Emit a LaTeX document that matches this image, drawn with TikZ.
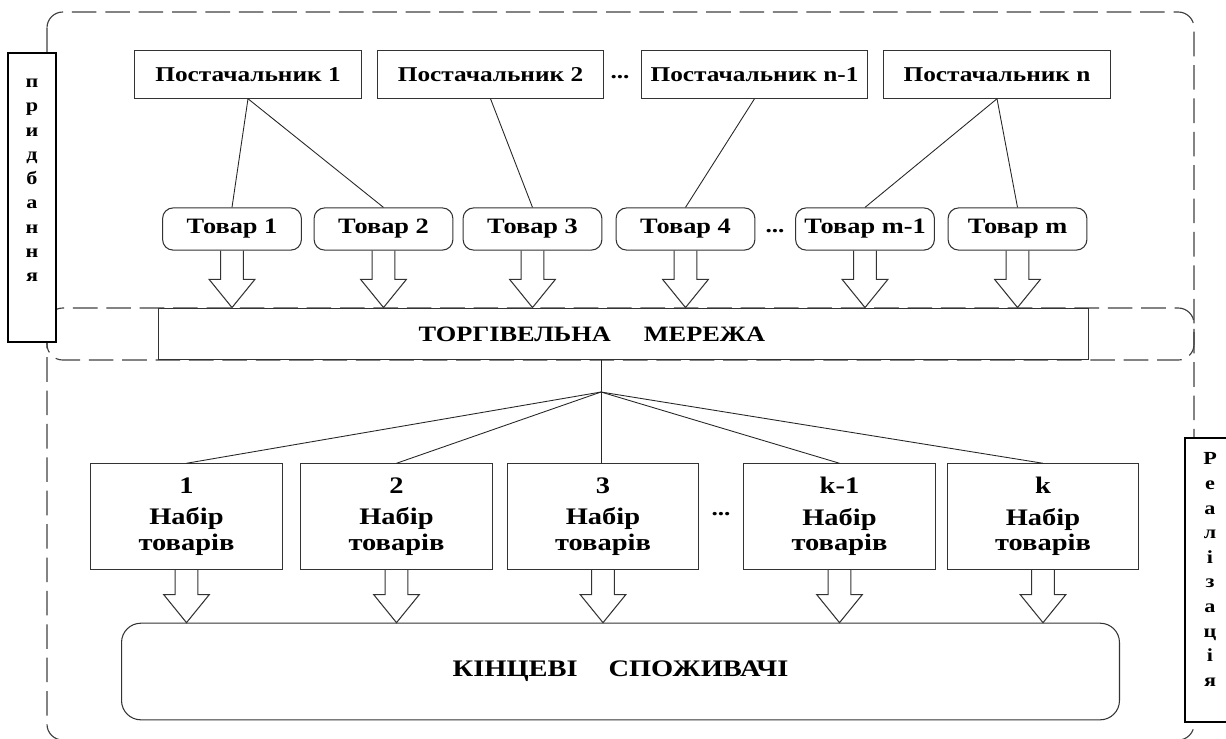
\documentclass[tikz,border=0pt]{standalone}
\usepackage{fontspec}
\setmainfont{Liberation Serif}[FakeStretch=1.2]
\usetikzlibrary{positioning,calc}

% block arrow from a box down to the box below it
\newcommand{\fatarrow}[2]{%
  \draw[fatarrow] let \p1=(#1.south), \p2=(#1.south |- #2.north) in
    (\x1-6.5pt,\y1) -- (\x1-6.5pt,\y2+16pt) -- (\x1-13pt,\y2+16pt) -- (\x2,\y2)
    -- (\x1+13pt,\y2+16pt) -- (\x1+6.5pt,\y2+16pt) -- (\x1+6.5pt,\y1);}

\begin{document}
\begin{tikzpicture}[x=0.02cm, y=-0.02cm,
    area/.style={draw=black!75, line width=0.65pt, dash pattern=on 14pt off 5pt, rounded corners=9pt},
    supplier/.style={draw=black!80, line width=0.6pt, fill=white, minimum width=129pt, minimum height=27pt, font=\fontsize{12}{14}\selectfont\bfseries},
    goods/.style={draw=black!80, line width=0.6pt, fill=white, rounded corners=6pt, minimum width=79pt, minimum height=24pt, font=\fontsize{12.5}{14}\selectfont\bfseries},
    netbox/.style={draw=black!80, line width=0.6pt, fill=white, minimum width=529pt, minimum height=29.5pt, font=\fontsize{12.5}{14}\selectfont\bfseries},
    setbox/.style={draw=black!80, line width=0.6pt, fill=white, minimum width=109pt, minimum height=60pt, align=center, font=\fontsize{13.5}{14.5}\selectfont\bfseries},
    endbox/.style={draw=black!80, line width=0.6pt, fill=white, rounded corners=11pt, minimum width=568pt, minimum height=55pt, font=\fontsize{13.5}{15}\selectfont\bfseries},
    sidebox/.style={draw=black, line width=1.1pt, fill=white, minimum width=27pt},
    sidetext/.style={inner sep=0pt, align=center, font=\fontsize{10.5}{13.8}\selectfont\bfseries},
    dots/.style={inner sep=0pt, font=\fontsize{12}{13}\selectfont\bfseries},
    link/.style={draw=black!85, line width=0.5pt},
    fatarrow/.style={draw=black!80, line width=0.6pt}
]
\clip (0,0) rectangle (1226,738);

% dashed areas
\draw[area] (47,12) rectangle (1194,360);
\draw[area] (47,308) rectangle (1194,740);

% side labels
\node[sidebox, minimum height=164pt] (buy) at (32,197.5) {};
\node[sidetext, below=15pt of buy.north] (buytxt) {п\\р\\и\\д\\б\\а\\н\\н\\я};
\node[sidebox, minimum height=162pt, minimum width=28pt] (sell) at (1210,580) {};
\node[sidetext, font=\fontsize{10.5}{14}\selectfont\bfseries, below=9pt of sell.north] (selltxt) {Р\\е\\а\\л\\і\\з\\а\\ц\\і\\я};

% suppliers
\node[supplier] (s1) at (248,74.5) {Постачальник 1};
\node[supplier] (s2) at (490.5,74.5) {Постачальник 2};
\node[dots] (sdots) at (620,77) {...};
\node[supplier] (s3) at (754.5,74.5) {Постачальник n-1};
\node[supplier] (s4) at (997,74.5) {Постачальник n};

% goods
\node[goods] (t1) at (232,229) {Товар 1};
\node[goods] (t2) at (383.5,229) {Товар 2};
\node[goods] (t3) at (532.5,229) {Товар 3};
\node[goods] (t4) at (685.5,229) {Товар 4};
\node[dots] (tdots) at (775,231) {...};
\node[goods] (t5) at (865,229) {Товар m-1};
\node[goods] (t6) at (1017.5,229) {Товар m};

% trade network
\node[netbox] (net) at (623.5,334) {ТОРГІВЕЛЬНА\hspace{1.5em}МЕРЕЖА\hspace*{36pt}};

% sets of goods
\node[setbox] (k1) at (186.5,516.5) {1\\[3.5pt]Набір\\товарів};
\node[setbox] (k2) at (396.5,516.5) {2\\[3.5pt]Набір\\товарів};
\node[setbox] (k3) at (603,516.5) {3\\[3.5pt]Набір\\товарів};
\node[dots] (kdots) at (721,514) {...};
\node[setbox] (k4) at (839.5,516.5) {k-1\\[3.5pt]Набір\\товарів};
\node[setbox] (k5) at (1043,516.5) {k\\[3.5pt]Набір\\товарів};

% consumers
\node[endbox] (cons) at (620.5,671.5) {КІНЦЕВІ\hspace{1.3em}СПОЖИВАЧІ};

% suppliers to goods
\draw[link] (s1.south) -- (t1.north);
\draw[link] (s1.south) -- (t2.north);
\draw[link] (s2.south) -- (t3.north);
\draw[link] (s3.south) -- (t4.north);
\draw[link] (s4.south) -- (t5.north);
\draw[link] (s4.south) -- (t6.north);

% goods into the network
\foreach \g in {t1,t2,t3,t4,t5,t6} \fatarrow{\g}{net};

% network to sets
\coordinate (hub) at (601,392);
\draw[link] (net.south -| hub) -- (hub |- k3.north);
\foreach \k in {k1,k2,k4,k5} \draw[link] (hub) -- (\k.north);

% sets to consumers
\foreach \k in {k1,k2,k3,k4,k5} \fatarrow{\k}{cons};
\end{tikzpicture}
\end{document}
